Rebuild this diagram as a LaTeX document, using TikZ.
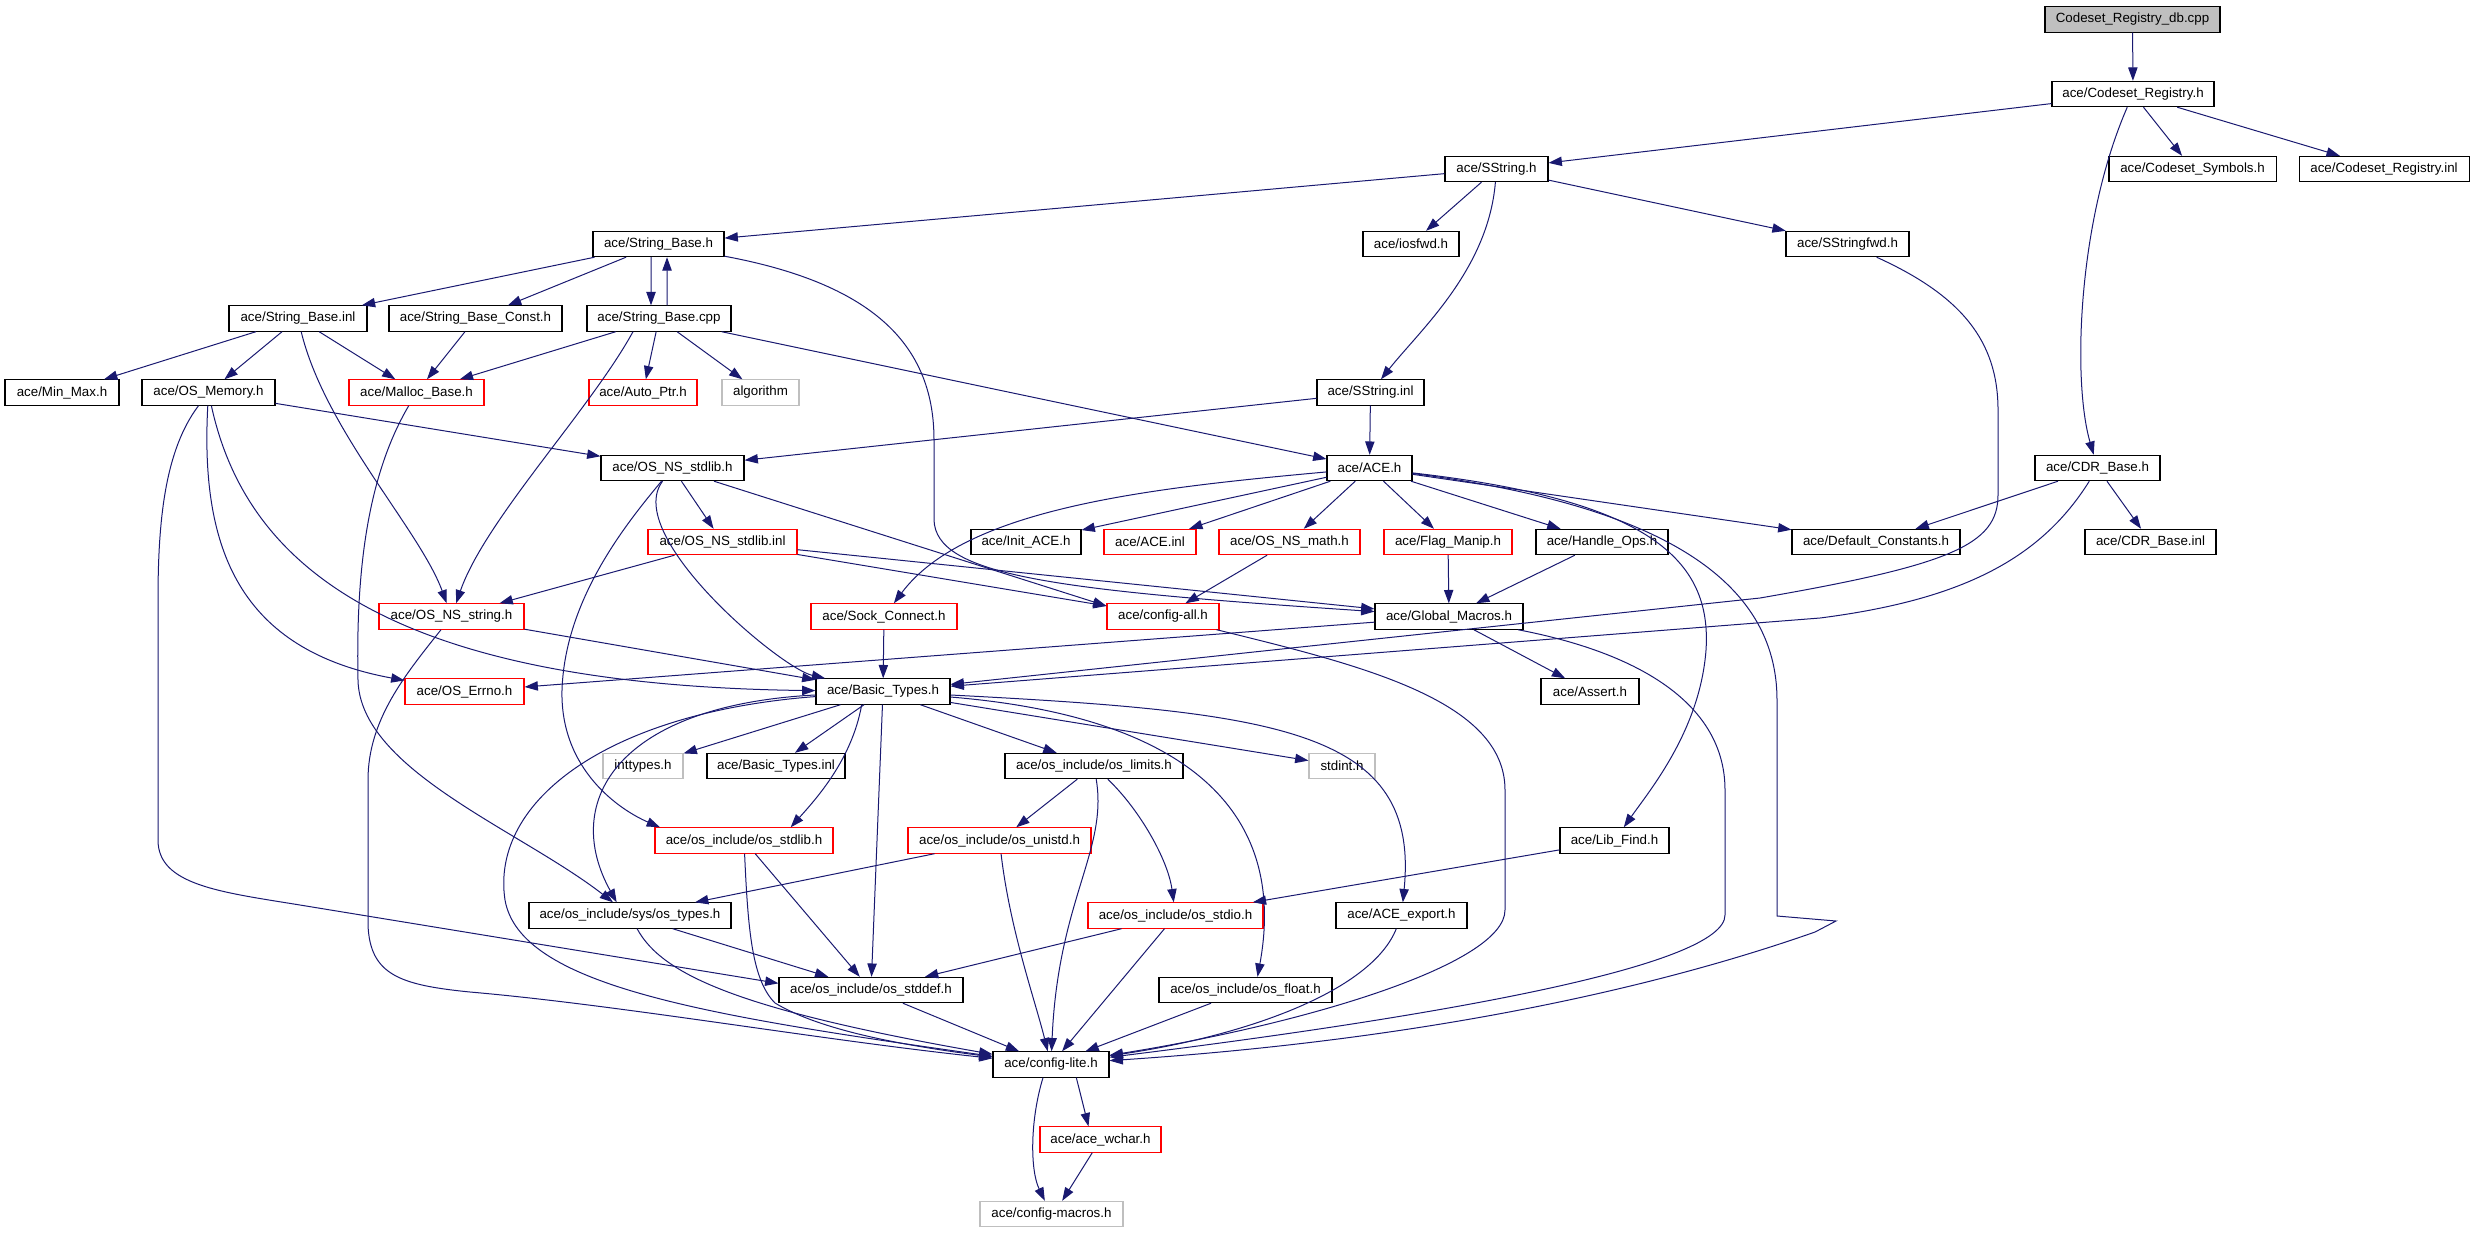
\documentclass[tikz,border=0pt]{standalone}
\usepackage{fontspec}
\setmainfont{Liberation Sans}
\usetikzlibrary{arrows.meta}
\definecolor{edgec}{HTML}{191970}
\definecolor{grayb}{HTML}{BFBFBF}
\begin{document}
\begin{tikzpicture}[x=0.75pt,y=-0.75pt, font=\fontsize{10}{12}\selectfont,
 nbox/.style={draw=black, line width=0.8pt, fill=white, minimum height=19pt, inner sep=0pt, anchor=center},
 redbox/.style={nbox, draw=red},
 graybox/.style={nbox, draw=grayb},
 rootbox/.style={nbox, fill=grayb},
 bw/.style={minimum width=#1*0.75pt},
 dep/.style={draw=edgec, line width=0.75pt, -{Triangle[length=10pt,width=7pt]}, fill=none},
]
\useasboundingbox (0,0) rectangle (2472,1232);

\node[rootbox,bw=175] (db) at (2132.5,19.5) {Codeset\_Registry\_db.cpp};
\node[nbox,bw=162] (creg) at (2133,94) {ace/Codeset\_Registry.h};
\node[nbox,bw=103] (sstr) at (1496.5,169) {ace/SString.h};
\node[nbox,bw=167] (csym) at (2192.5,169) {ace/Codeset\_Symbols.h};
\node[nbox,bw=170] (cinl) at (2384,169) {ace/Codeset\_Registry.inl};
\node[nbox,bw=131] (sbase) at (658.5,244) {ace/String\_Base.h};
\node[nbox,bw=96] (iosfwd) at (1411,244) {ace/iosfwd.h};
\node[nbox,bw=123] (sfwd) at (1847.5,244) {ace/SStringfwd.h};
\node[nbox,bw=138] (sbinl) at (298,318.5) {ace/String\_Base.inl};
\node[nbox,bw=173] (sbconst) at (475.5,318.5) {ace/String\_Base\_Const.h};
\node[nbox,bw=144] (sbcpp) at (659,318.5) {ace/String\_Base.cpp};
\node[nbox,bw=114] (minmax) at (62,392.5) {ace/Min\_Max.h};
\node[nbox,bw=133] (osmem) at (208.5,392.5) {ace/OS\_Memory.h};
\node[redbox,bw=135] (malloc) at (416.5,392.5) {ace/Malloc\_Base.h};
\node[redbox,bw=108] (autoptr) at (643,392.5) {ace/Auto\_Ptr.h};
\node[graybox,bw=77] (algo) at (760.5,392.5) {algorithm};
\node[nbox,bw=107] (sinl) at (1370.5,392.5) {ace/SString.inl};
\node[nbox,bw=143] (nsstdlib) at (672.5,468) {ace/OS\_NS\_stdlib.h};
\node[nbox,bw=85] (ace) at (1369.5,468) {ace/ACE.h};
\node[nbox,bw=125] (cdr) at (2097.5,468) {ace/CDR\_Base.h};
\node[redbox,bw=149] (nsinl) at (722.5,542) {ace/OS\_NS\_stdlib.inl};
\node[nbox,bw=110] (initace) at (1026,542) {ace/Init\_ACE.h};
\node[redbox,bw=92] (aceinl) at (1150,542) {ace/ACE.inl};
\node[redbox,bw=141] (nsmath) at (1289.5,542) {ace/OS\_NS\_math.h};
\node[redbox,bw=128] (flag) at (1448,542) {ace/Flag\_Manip.h};
\node[nbox,bw=132] (handle) at (1602,542) {ace/Handle\_Ops.h};
\node[nbox,bw=168] (defc) at (1876,542) {ace/Default\_Constants.h};
\node[nbox,bw=131] (cdrinl) at (2150.5,542) {ace/CDR\_Base.inl};
\node[redbox,bw=145] (nsstring) at (451.5,616.5) {ace/OS\_NS\_string.h};
\node[redbox,bw=146] (sock) at (884,616.5) {ace/Sock\_Connect.h};
\node[redbox,bw=112] (cfgall) at (1163,616.5) {ace/config-all.h};
\node[nbox,bw=148] (gmac) at (1449,616.5) {ace/Global\_Macros.h};
\node[redbox,bw=119] (errno) at (464.5,691.5) {ace/OS\_Errno.h};
\node[nbox,bw=134] (btypes) at (883,691.5) {ace/Basic\_Types.h};
\node[nbox,bw=98] (assert) at (1590,691.5) {ace/Assert.h};
\node[graybox,bw=80] (inttypes) at (643,766) {inttypes.h};
\node[nbox,bw=138] (btinl) at (776,766) {ace/Basic\_Types.inl};
\node[nbox,bw=178] (limits) at (1094,766) {ace/os\_include/os\_limits.h};
\node[graybox,bw=66] (stdint) at (1342,766) {stdint.h};
\node[redbox,bw=178] (osstdlib) at (744,840.5) {ace/os\_include/os\_stdlib.h};
\node[redbox,bw=183] (unistd) at (999.5,840.5) {ace/os\_include/os\_unistd.h};
\node[nbox,bw=109] (libfind) at (1614.5,840.5) {ace/Lib\_Find.h};
\node[nbox,bw=202] (ostypes) at (630,915.5) {ace/os\_include/sys/os\_types.h};
\node[redbox,bw=175] (stdio) at (1175.5,915.5) {ace/os\_include/os\_stdio.h};
\node[nbox,bw=131] (export) at (1401.5,915.5) {ace/ACE\_export.h};
\node[nbox,bw=184] (stddef) at (871,990) {ace/os\_include/os\_stddef.h};
\node[nbox,bw=173] (float) at (1245.5,990) {ace/os\_include/os\_float.h};
\node[nbox,bw=116] (clite) at (1051,1064.5) {ace/config-lite.h};
\node[redbox,bw=121] (wchar) at (1100.5,1139.5) {ace/ace\_wchar.h};
\node[graybox,bw=143] (cmacros) at (1051.5,1214) {ace/config-macros.h};

% top
\draw[dep] (db) -- (creg);
\draw[dep] (creg) -- (sstr);
\draw[dep] (creg) -- (csym);
\draw[dep] (creg) -- (cinl);
\draw[dep] (creg) .. controls (2078,220) and (2072,380) .. (cdr);
\draw[dep] (sstr) -- (sbase);
\draw[dep] (sstr) -- (iosfwd);
\draw[dep] (sstr) -- (sfwd);
\draw[dep] (sstr) .. controls (1488,270) and (1420,330) .. (sinl);
% String_Base
\draw[dep] (sbase) -- (sbinl);
\draw[dep] (sbase) -- (sbconst);
\draw[dep] ([xshift=-5.6pt]sbase.south) -- ([xshift=-6pt]sbcpp.north);
\draw[dep] ([xshift=6pt]sbcpp.north) -- ([xshift=6.4pt]sbase.south);
\draw[dep] (sbase) .. controls (880,285) and (934,350) .. (934,440) -- (934,520) .. controls (936,575) and (1050,590) .. (gmac);
\draw[dep] (sbinl) -- (minmax);
\draw[dep] (sbinl) -- (osmem);
\draw[dep] (sbinl) -- (malloc);
\draw[dep] (sbinl) .. controls (325,430) and (420,530) .. (nsstring);
\draw[dep] (sbconst) -- (malloc);
\draw[dep] (sbcpp) -- (malloc);
\draw[dep] (sbcpp) -- (autoptr);
\draw[dep] (sbcpp) -- (algo);
\draw[dep] ([xshift=-19.5pt]sbcpp.south) .. controls (590,410) and (485,520) .. (nsstring);
\draw[dep] (sbcpp) -- (ace);
% OS_Memory
\draw[dep] (osmem) -- (nsstdlib);
\draw[dep] (osmem) .. controls (200,550) and (240,650) .. (errno);
\draw[dep] (osmem) .. controls (245,560) and (380,685) .. (btypes);
\draw[dep] (osmem) .. controls (165,450) and (158,520) .. (158,600) -- (158,840) .. controls (158,885) and (220,892) .. (300,905) -- ([yshift=5pt]stddef.west);
\draw[dep] (malloc) .. controls (365,480) and (356,580) .. (358,680) .. controls (360,770) and (520,830) .. (ostypes);
% OS_NS_string
\draw[dep] (nsstring) -- (btypes);
\draw[dep] (nsstring) .. controls (405,675) and (368,720) .. (368,780) -- (368,925) .. controls (370,975) and (400,985) .. (470,992) .. controls (620,1005) and (820,1040) .. (clite);
% OS_NS_stdlib
\draw[dep] (nsstdlib) -- (nsinl);
\draw[dep] (nsstdlib) .. controls (622,535) and (780,668) .. (btypes);
\draw[dep] (nsstdlib) -- ([yshift=-2pt]cfgall.north west);
\draw[dep] (nsstdlib) .. controls (625,525) and (565,600) .. (562,690) .. controls (560,770) and (620,810) .. ([xshift=-63pt]osstdlib.north);
\draw[dep] (nsinl) -- (nsstring);
\draw[dep] (nsinl) -- ([yshift=-2pt]cfgall.north west);
\draw[dep] (nsinl) -- (gmac);
% ACE
\draw[dep] (sinl) -- (nsstdlib);
\draw[dep] (sinl) -- (ace);
\draw[dep] (ace) -- (initace);
\draw[dep] (ace) -- (aceinl);
\draw[dep] (ace) -- (nsmath);
\draw[dep] (ace) -- (flag);
\draw[dep] (ace) -- (handle);
\draw[dep] (ace) -- (defc);
\draw[dep] (ace) .. controls (1150,488) and (965,508) .. (sock);
\draw[dep] (ace) .. controls (1650,500) and (1712,560) .. (1706,650) .. controls (1700,730) and (1650,790) .. (libfind);
\draw[dep] (ace) .. controls (1660,505) and (1777,580) .. (1777,700) -- (1777,916) -- (1836,921) -- (1815,932) .. controls (1650,990) and (1420,1040) .. (clite);
% CDR / SStringfwd
\draw[dep] (cdr) -- (defc);
\draw[dep] (cdr) -- (cdrinl);
\draw[dep] (cdr) .. controls (2040,560) and (1960,600) .. (1820,618) -- (btypes);
\draw[dep] (sfwd) .. controls (1960,295) and (1998,340) .. (1998,410) -- (1998,495) .. controls (1998,545) and (1950,565) .. (1760,598) -- (btypes);
% row 7-8
\draw[dep] (flag) -- (gmac);
\draw[dep] (handle) -- (gmac);
\draw[dep] (nsmath) -- (cfgall);
\draw[dep] (sock) -- (btypes);
\draw[dep] (gmac) -- (errno);
\draw[dep] (gmac) -- (assert);
\draw[dep] (gmac) .. controls (1650,655) and (1725,710) .. (1725,790) -- (1725,915) .. controls (1725,965) and (1450,1015) .. (clite);
\draw[dep] (cfgall) .. controls (1360,665) and (1505,700) .. (1505,790) -- (1505,910) .. controls (1505,965) and (1300,1025) .. (clite);
% Basic_Types
\draw[dep] (btypes) -- (inttypes);
\draw[dep] (btypes) -- (btinl);
\draw[dep] (btypes) -- (limits);
\draw[dep] (btypes) -- (stdint);
\draw[dep] ([xshift=-16pt]btypes.south) .. controls (852,760) and (815,800) .. ([xshift=35pt]osstdlib.north);
\draw[dep] (btypes) .. controls (620,705) and (560,800) .. ([xshift=-10pt]ostypes.north);
\draw[dep] (btypes) -- (stddef);
\draw[dep] (btypes) .. controls (610,712) and (490,800) .. (505,900) .. controls (520,985) and (700,1015) .. (clite);
\draw[dep] (btypes) .. controls (1280,712) and (1420,730) .. (export);
\draw[dep] (btypes) .. controls (1170,715) and (1290,800) .. ([xshift=9pt]float.north);
% lower
\draw[dep] (limits) -- (unistd);
\draw[dep] (limits) .. controls (1140,810) and (1168,860) .. (stdio);
\draw[dep] (limits) .. controls (1108,850) and (1058,900) .. (clite);
\draw[dep] (unistd) -- (ostypes);
\draw[dep] (unistd) .. controls (1010,930) and (1035,1000) .. (clite);
\draw[dep] (libfind) -- (stdio);
\draw[dep] (osstdlib) -- (stddef);
\draw[dep] (osstdlib) .. controls (748,930) and (752,980) .. (775,1003) .. controls (820,1030) and (900,1045) .. (clite);
\draw[dep] (ostypes) -- (stddef);
\draw[dep] (ostypes) .. controls (662,975) and (740,1010) .. (clite);
\draw[dep] (stdio) -- (stddef);
\draw[dep] (stdio) -- (clite);
\draw[dep] (export) .. controls (1372,990) and (1250,1035) .. (clite);
\draw[dep] (float) -- (clite);
\draw[dep] (stddef) -- (clite);
\draw[dep] ([xshift=19pt]clite.south) -- ([xshift=-9pt]wchar.north);
\draw[dep] ([xshift=-6pt]clite.south) .. controls (1030,1120) and (1030,1170) .. ([xshift=-5pt]cmacros.north);
\draw[dep] (wchar) -- ([xshift=8pt]cmacros.north);
\end{tikzpicture}
\end{document}
